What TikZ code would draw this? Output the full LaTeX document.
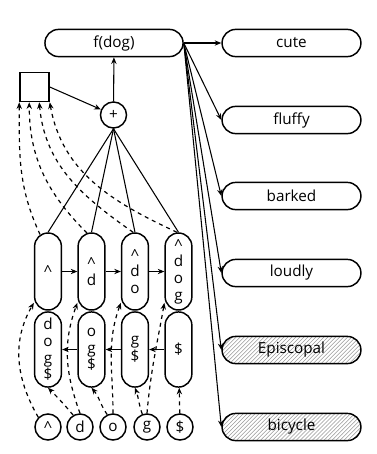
\documentclass[tikz,border=0pt]{standalone}
\usepackage{fontspec}
\setmainfont{Open Sans}
\usetikzlibrary{arrows.meta}
\usetikzlibrary{patterns}

\begin{document}
\begin{tikzpicture}[x=0.265mm, y=0.265mm, >={Stealth[length=5pt,width=4pt]},
	font=\fontsize{11.5}{12.5}\selectfont,
	pill/.style={draw, line width=1.1pt, rounded corners=3.6mm, minimum width=36.8mm, minimum height=7.2mm, inner sep=0pt},
	hatched/.style={pill, pattern=north east lines, pattern color=gray!80},
	cell/.style={draw, line width=1.1pt, rounded corners=3.55mm, minimum width=7.1mm, inner sep=0pt, align=center},
	char/.style={draw, line width=1.1pt, circle, minimum size=6.9mm, inner sep=0pt},
	conn/.style={->, line width=0.8pt},
	feed/.style={->, dashed, line width=0.9pt}]
	\useasboundingbox (0,0) rectangle (376,-454);

	% word vector and the output words
	\node[pill, minimum width=36.6mm] (fdog) at (114,-43) {f(dog)};
	\node[pill] (cute) at (291.5,-43) {cute};
	\node[pill] (fluffy) at (291.5,-120) {fluffy};
	\node[pill] (barked) at (291.5,-196) {barked};
	\node[pill] (loudly) at (291.5,-273) {loudly};
	\node[hatched] (episcopal) at (291.5,-350) {Episcopal};
	\node[hatched] (bicycle) at (291.5,-427) {bicycle};

	\node[draw, line width=1.1pt, minimum size=7.7mm, inner sep=0pt] (mem) at (34.5,-87) {};
	\node[char] (plus) at (113.5,-115) {+};

	% forward and backward states
	\node[cell, minimum height=20.4mm] (f1) at (48,-271.5) {\raisebox{-0.3em}{\textasciicircum}};
	\node[cell, minimum height=20.4mm] (f2) at (91.5,-271.5) {\textasciicircum\\d};
	\node[cell, minimum height=20.4mm] (f3) at (135,-271.5) {\textasciicircum\\d\\o};
	\node[cell, minimum height=20.4mm] (f4) at (178.5,-271.5) {\textasciicircum\\d\\o\\g};
	\node[cell, minimum height=19.9mm] (b1) at (48,-349.5) {d\\o\\g\\\$};
	\node[cell, minimum height=19.9mm] (b2) at (91.5,-349.5) {o\\g\\\$};
	\node[cell, minimum height=19.9mm] (b3) at (135,-349.5) {g\\\$};
	\node[cell, minimum height=19.9mm] (b4) at (178.5,-349.5) {\$};

	% characters
	\node[char] (c0) at (48,-427) {\textasciicircum};
	\node[char] (c1) at (80,-427) {d};
	\node[char] (c2) at (113,-427) {o};
	\node[char] (c3) at (147,-427) {g};
	\node[char] (c4) at (180,-427) {\$};

	\draw[conn] (plus) -- (fdog);
	\draw[conn] (mem.east) -- (plus);
	\foreach \i in {1,...,4}
		\draw[line width=0.8pt] (plus.south) -- (f\i.north);
	\foreach \n in {cute, fluffy, barked, loudly, episcopal, bicycle}
		\draw[conn] (fdog.east) -- (\n.west);

	\draw[conn] (f1) -- (f2);
	\draw[conn] (f2) -- (f3);
	\draw[conn] (f3) -- (f4);
	\draw[conn] (b4) -- (b3);
	\draw[conn] (b3) -- (b2);
	\draw[conn] (b2) -- (b1);

	% states back to the box
	\draw[feed] ([xshift=-2.1mm,yshift=-0.6mm]f1.north) to[out=115, in=-90] (mem.south west);
	\draw[feed] ([xshift=-1.2mm,yshift=-0.2mm]f2.north) to[out=135, in=-90] ([xshift=2.65mm]mem.south west);
	\draw[feed] ([xshift=-0.5mm]f3.north) to[out=145, in=-85] ([xshift=5.3mm]mem.south west);
	\draw[feed] ([xshift=-0.4mm]f4.north) to[out=155, in=-80] (mem.south east);

	% characters into the states
	\draw[feed] (c0.north west) to[out=120, in=-120] ([yshift=2.1mm]f1.south west);
	\draw[feed] (c1.120) to[out=130, in=-45] (b1.south);
	\draw[feed] (c1.north) to[out=110, in=-110] ([yshift=2.1mm]f2.south west);
	\draw[feed] (c2.115) to[out=125, in=-50] (b2.south);
	\draw[feed] (c2.north) to[out=90, in=-110] ([yshift=2.1mm]f3.south west);
	\draw[feed] (c3.110) to[out=110, in=-70] (b3.south);
	\draw[feed] (c3.north) to[out=85, in=-100] ([yshift=2.1mm]f4.south west);
	\draw[feed] (c4) -- (b4);
\end{tikzpicture}
\end{document}
